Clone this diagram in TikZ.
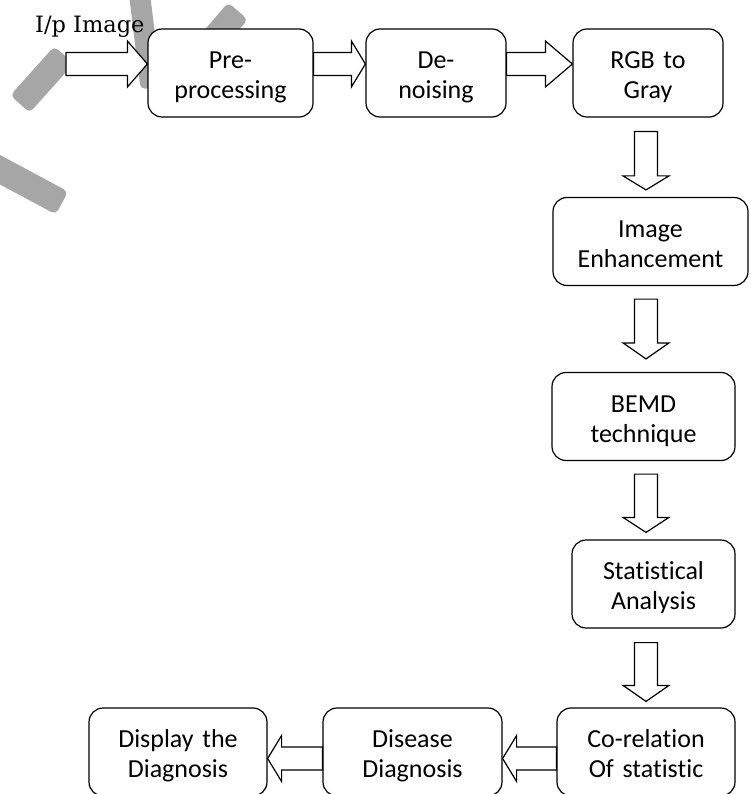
\documentclass[tikz,border=0pt]{standalone}
\usepackage{fontspec}
\setmainfont{Carlito}[Ligatures=NoCommon]
\newfontfamily\labelfont{DejaVu Serif}
\usetikzlibrary{calc}

\definecolor{brushgray}{RGB}{166,166,166}

% hollow block arrow from #2 (tail) to #3 (tip), #1 = head length
\newcommand{\blockarrow}[3][15pt]{%
  \coordinate (bh) at ($(#3)!#1!(#2)$);
  \draw[block] ($(#2)!11.5pt!90:(#3)$) -- ($(bh)!11.5pt!90:(#3)$)
    -- ($(bh)!23pt!90:(#3)$) -- (#3) -- ($(bh)!23pt!-90:(#3)$)
    -- ($(bh)!11.5pt!-90:(#3)$) -- ($(#2)!11.5pt!-90:(#3)$) -- cycle;}

% grey brush stroke from #1 to #2, half width #3
\newcommand{\brushstroke}[3]{%
  \fill[brush] ($(#1)!#3!90:(#2)$) -- ($(#2)!#3!-90:(#1)$)
    -- ($(#2)!#3!90:(#1)$) -- ($(#1)!#3!-90:(#2)$) -- cycle;}

\tikzset{
  stepbox/.style={draw, fill=white, line width=1.2pt, rounded corners=14pt,
    inner sep=0pt, align=center, text width=#1, minimum width=#1,
    minimum height=88pt, text height=39.5pt, text depth=48.5pt,
    font=\fontsize{26}{30}\selectfont},
  block/.style={draw, fill=white, line width=1.2pt, line join=miter},
  brush/.style={fill=brushgray, rounded corners=5pt}
}

\begin{document}
\begin{tikzpicture}[x=1pt, y=-1pt]
  \useasboundingbox (0,0) rectangle (750,794);
  \clip (0,0) rectangle (750,794);

  % strokes in the corner
  \brushstroke{20,104}{64,55}{13pt}
  \brushstroke{139,-10}{151,88}{10.5pt}
  \brushstroke{238,11}{195,61}{13pt}
  \brushstroke{-20,159}{62,203}{13pt}

  \node[anchor=base west, inner sep=0pt, font=\labelfont\fontsize{22.5}{26}\selectfont]
    (inlabel) at (35,33) {I/p Image};

  % first row
  \node[stepbox=165pt] (pre)  at (230.5,73) {Pre-\\processing};
  \node[stepbox=140pt] (den)  at (436,73)   {De-\\noising};
  \node[stepbox=150pt] (gray) at (648,73)   {RGB to\\Gray};

  % right column
  \node[stepbox=195pt] (enh)  at (650.5,241.5) {Image\\Enhancement};
  \node[stepbox=183pt] (bemd) at (643.5,416.5) {BEMD\\technique};
  \node[stepbox=163pt] (stat) at (653.5,584)   {Statistical\\Analysis};

  % last row
  \node[stepbox=178pt] (corel) at (646,752)   {Co-relation\\Of statistic};
  \node[stepbox=179pt] (dis)   at (412.5,752) {Disease\\Diagnosis};
  \node[stepbox=178pt] (disp)  at (178,752)   {Display the\\Diagnosis};

  % arrows
  \coordinate (in)  at (66,64);
  \coordinate (low) at (0,758.5);
  \coordinate (col) at (646,0);

  \blockarrow[20pt]{in}{pre.west |- in}
  \blockarrow[14pt]{pre.east |- in}{den.west |- in}
  \blockarrow[27pt]{den.east |- in}{gray.west |- in}

  \coordinate (d1a) at ($(gray.south -| col)+(0,14)$);
  \coordinate (d1b) at ($(enh.north -| col)+(0,-7)$);
  \coordinate (d2a) at ($(enh.south -| col)+(0,13)$);
  \coordinate (d2b) at ($(bemd.north -| col)+(0,-13)$);
  \coordinate (d3a) at ($(bemd.south -| col)+(0,13)$);
  \coordinate (d3b) at ($(stat.north -| col)+(0,-7)$);
  \coordinate (d4a) at ($(stat.south -| col)+(0,14)$);
  \coordinate (d4b) at ($(corel.north -| col)+(0,-6)$);
  \blockarrow[14pt]{d1a}{d1b}
  \blockarrow[16pt]{d2a}{d2b}
  \blockarrow[15pt]{d3a}{d3b}
  \blockarrow[16pt]{d4a}{d4b}

  \blockarrow[14pt]{corel.west |- low}{dis.east |- low}
  \blockarrow[14pt]{dis.west |- low}{disp.east |- low}
\end{tikzpicture}
\end{document}
